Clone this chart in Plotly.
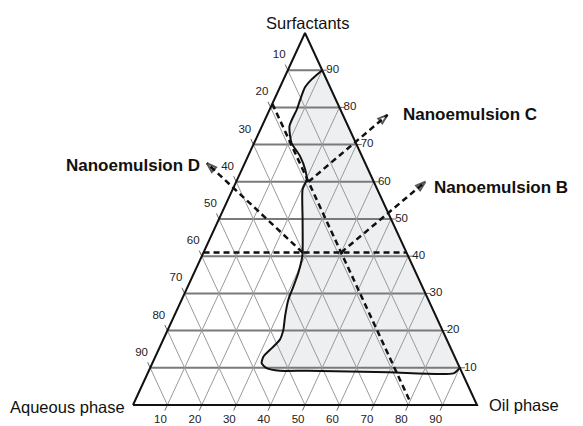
import plotly.graph_objects as go

# ---------------- data (compositions in %) ----------------
tick_values = [10, 20, 30, 40, 50, 60, 70, 80, 90]
tick_labels = ["10", "20", "30", "40", "50", "60", "70", "80", "90"]

# phase boundary of the nanoemulsion region
curve_surfactant = [90, 87.6, 85.4, 81.8, 79.5, 75.0, 70.5, 66.9, 63.3, 60.6, 58.0, 50.0, 41.0,
                    39.1, 35.5, 31.9, 28.3, 23.8, 20.2, 17.5, 15.3, 13.0, 11.2, 9.9, 9.2, 9.2,
                    8.8, 8.5, 10.0]
curve_oil = [10, 8.2, 7.3, 7.6, 7.9, 8.0, 10.8, 15.1, 18.4, 20.2, 20.3, 24.3, 28.8,
             29.5, 30.3, 30.7, 31.0, 32.3, 33.6, 33.9, 32.7, 31.4, 31.8, 33.9, 38.1, 46.0,
             70.0, 88.9, 90.0]
curve_aqueous = [0, 4.2, 7.3, 10.6, 12.6, 17.0, 18.7, 18.0, 18.3, 19.2, 21.7, 25.7, 30.2,
                 31.4, 34.2, 37.4, 40.7, 43.9, 46.2, 48.6, 52.0, 55.6, 57.0, 56.2, 52.7, 44.8,
                 21.2, 2.6, 0.0]

# dashed guide lines
surf41_surfactant = [41, 41]
surf41_oil = [0, 59]
surf41_aqueous = [59, 0]

aq19_surfactant = [81, 1]
aq19_oil = [0, 80]
aq19_aqueous = [19, 19]

# arrows towards the formulation labels
arrow_b_surfactant = [41, 60]
arrow_b_oil = [40, 55]
arrow_b_aqueous = [19, -15]

arrow_c_surfactant = [60, 78]
arrow_c_oil = [21, 35]
arrow_c_aqueous = [19, -13]

arrow_d_surfactant = [41, 65]
arrow_d_oil = [28.8, -11]
arrow_d_aqueous = [30.2, 46]

# ---------------- projection of compositions onto the triangle ----------------
def proj(surf, oil, aq):
    xs, ys = [], []
    for s, o, w in zip(surf, oil, aq):
        if s is None:
            xs.append(None); ys.append(None); continue
        t = s + o + w
        xs.append(100.0 * (o + s / 2.0) / t)
        ys.append(100.0 * s / t)
    return xs, ys

FONT = "Liberation Sans, Arial, sans-serif"
GRID_DARK = "#7a7a7a"
GRID_LIGHT = "#9a9a9a"
INK = "#111111"

fig = go.Figure()

# shaded nanoemulsion region
cx, cy = proj(curve_surfactant, curve_oil, curve_aqueous)
fig.add_trace(go.Scatter(x=cx, y=cy, mode="none", fill="toself",
                         fillcolor="rgba(200,202,210,0.3)", line_shape="spline",
                         hoverinfo="skip", showlegend=False))

# grid lines built from tick values
hs, ho, hw = [], [], []
for v in tick_values:
    hs += [v, v, None]; ho += [0, 100 - v, None]; hw += [100 - v, 0, None]
gx, gy = proj(hs, ho, hw)
fig.add_trace(go.Scatter(x=gx, y=gy, mode="lines", line=dict(color=GRID_DARK, width=2),
                         hoverinfo="skip", showlegend=False))

ds, do, dw = [], [], []
for v in tick_values:
    # constant oil
    ds += [0, 100 - v, None]; do += [v, v, None]; dw += [100 - v, 0, None]
    # constant aqueous
    ds += [0, 100 - v, None]; do += [100 - v, 0, None]; dw += [v, v, None]
gx, gy = proj(ds, do, dw)
fig.add_trace(go.Scatter(x=gx, y=gy, mode="lines", line=dict(color=GRID_LIGHT, width=1),
                         hoverinfo="skip", showlegend=False))

# tick marks
TL = 1.5
ts, to, tw = [], [], []
for v in tick_values:
    # left edge (aqueous)
    ts += [100 - v, 100 - v + TL, None]; to += [0, -TL, None]; tw += [v, v, None]
    # bottom edge (oil)
    ts += [0, -TL, None]; to += [v, v, None]; tw += [100 - v, 100 - v + TL, None]
    # right edge (surfactant)
    ts += [v, v, None]; to += [100 - v, 100 - v + TL, None]; tw += [0, -TL, None]
gx, gy = proj(ts, to, tw)
fig.add_trace(go.Scatter(x=gx, y=gy, mode="lines", line=dict(color="#666666", width=1),
                         hoverinfo="skip", showlegend=False))

# triangle frame
bx, by = proj([0, 0, 100, 0], [0, 100, 0, 0], [100, 0, 0, 100])
fig.add_trace(go.Scatter(x=bx, y=by, mode="lines", line=dict(color=INK, width=2),
                         hoverinfo="skip", showlegend=False))

# tick labels
tick_font = dict(family=FONT, size=11.5, color="#222222")
lx, ly = proj([104 - v for v in tick_values], [-4.5] * 9, [0.5 + v for v in tick_values])
fig.add_trace(go.Scatter(x=lx, y=ly, mode="text", text=tick_labels, textposition="middle center",
                         textfont=tick_font, hoverinfo="skip", showlegend=False, cliponaxis=False))
lx, ly = proj([-4] * 9, [v for v in tick_values], [104 - v for v in tick_values])
fig.add_trace(go.Scatter(x=lx, y=ly, mode="text", text=tick_labels, textposition="middle center",
                         textfont=tick_font, hoverinfo="skip", showlegend=False, cliponaxis=False))
lx, ly = proj([v for v in tick_values], [100 - v + 1.2 for v in tick_values], [-1.2] * 9)
fig.add_trace(go.Scatter(x=lx, y=ly, mode="text", text=tick_labels, textposition="middle right",
                         textfont=tick_font, hoverinfo="skip", showlegend=False, cliponaxis=False))

# phase boundary line
fig.add_trace(go.Scatter(x=cx, y=cy, mode="lines", line=dict(color=INK, width=2, shape="spline", smoothing=0.6),
                         hoverinfo="skip", showlegend=False))

# dashed guides
DASH = dict(color=INK, width=2.5, dash="6px,4px")
for s_, o_, w_ in [(surf41_surfactant, surf41_oil, surf41_aqueous),
                   (aq19_surfactant, aq19_oil, aq19_aqueous)]:
    x_, y_ = proj(s_, o_, w_)
    fig.add_trace(go.Scatter(x=x_, y=y_, mode="lines", line=DASH, hoverinfo="skip", showlegend=False))

for s_, o_, w_ in [(arrow_b_surfactant, arrow_b_oil, arrow_b_aqueous),
                   (arrow_c_surfactant, arrow_c_oil, arrow_c_aqueous),
                   (arrow_d_surfactant, arrow_d_oil, arrow_d_aqueous)]:
    x_, y_ = proj(s_, o_, w_)
    fig.add_trace(go.Scatter(x=x_, y=y_, mode="lines+markers", line=DASH,
                             marker=dict(symbol="arrow-open", size=[0, 10], angleref="previous",
                                         color=INK, line=dict(color=INK, width=2)),
                             hoverinfo="skip", showlegend=False, cliponaxis=False))

title_font = dict(family=FONT, size=16.5, color=INK)
label_font = dict(family=FONT, size=17, color=INK)
annotations = [
    dict(text="Surfactants", x=50.6, y=102.7, xanchor="center", yanchor="middle", font=title_font),
    dict(text="Aqueous phase", x=-1.7, y=-0.5, xanchor="right", yanchor="middle", font=title_font),
    dict(text="Oil phase", x=102.9, y=0.0, xanchor="left", yanchor="middle", font=title_font),
    dict(text="<b>Nanoemulsion D</b>", x=20.0, y=64.5, xanchor="right", yanchor="middle", font=label_font),
    dict(text="<b>Nanoemulsion C</b>", x=77.9, y=78.0, xanchor="left", yanchor="middle", font=label_font),
    dict(text="<b>Nanoemulsion B</b>", x=86.9, y=58.6, xanchor="left", yanchor="middle", font=label_font),
]
for a in annotations:
    a.update(xref="x", yref="y", showarrow=False)

# pixel geometry of the reference triangle: base 133..477 px, apex 33 px, base line 405 px
W, H = 583, 426
X0, XPX = 133.0, 3.44
Y0, YPX = 405.0, 3.72
fig.update_layout(
    width=W, height=H, margin=dict(l=0, r=0, t=0, b=0),
    paper_bgcolor="white", plot_bgcolor="white",
    xaxis=dict(visible=False, range=[-X0 / XPX, (W - X0) / XPX], fixedrange=True),
    yaxis=dict(visible=False, range=[(Y0 - H) / YPX, Y0 / YPX], fixedrange=True),
    annotations=annotations, showlegend=False,
)

fig.write_html("out.html", config={"displayModeBar": False},
               post_script="document.body.style.margin='0';document.body.style.overflow='hidden';")
